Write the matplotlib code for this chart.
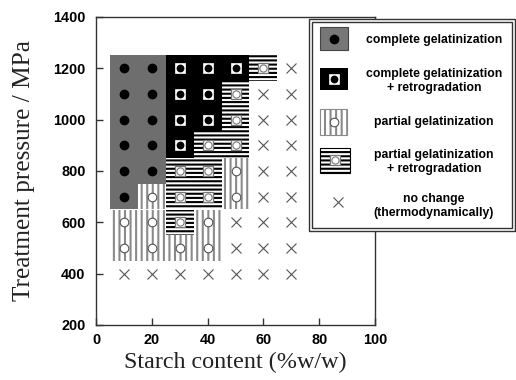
import numpy as np
import matplotlib
matplotlib.use("Agg")
import matplotlib.pyplot as plt
from matplotlib.patches import Rectangle

plt.rcParams["hatch.linewidth"] = 1.5

# Sample grid
starch = [10, 20, 30, 40, 50, 60, 70]
pressure = [400, 500, 600, 700, 800, 900, 1000, 1100, 1200]

# State of each sample, from 400 MPa up to 1200 MPa
# C: complete gelatinization, R: complete gelatinization + retrogradation,
# P: partial gelatinization, Q: partial gelatinization + retrogradation,
# N: no change
state_10 = "NPPCCCCCC"
state_20 = "NPPPCCCCC"
state_30 = "NPQQQRRRR"
state_40 = "NPPQQQRRR"
state_50 = "NNNPPQQQR"
state_60 = "NNNNNNNNQ"
state_70 = "NNNNNNNNN"
states = [state_10, state_20, state_30, state_40, state_50, state_60, state_70]

x_ticks = [0, 20, 40, 60, 80, 100]
y_ticks = [200, 400, 600, 800, 1000, 1200, 1400]

legend_labels = {
    "C": "complete gelatinization",
    "R": "complete gelatinization\n+ retrogradation",
    "P": "partial gelatinization",
    "Q": "partial gelatinization\n+ retrogradation",
    "N": "no change\n(thermodynamically)",
}

GRAY = "#6e6e6e"
STRIPE = "#8a8a8a"
INK = "#333333"

cell_style = {
    "C": dict(facecolor=GRAY, edgecolor="none"),
    "R": dict(facecolor="black", edgecolor="none"),
    "P": dict(facecolor="white", edgecolor=STRIPE, hatch="|||"),
    "Q": dict(facecolor="white", edgecolor="black", hatch="----"),
}


def draw_marker(axis, xs, ys, code, scale=1.0):
    if code == "C":
        axis.plot(xs, ys, ls="none", marker="o", ms=6 * scale, mfc="black",
                  mec="black", zorder=4)
    elif code == "R":
        axis.plot(xs, ys, ls="none", marker="s", ms=7 * scale, mfc="white",
                  mec="white", mew=0.5, zorder=4)
        axis.plot(xs, ys, ls="none", marker="o", ms=4.6 * scale, mfc="black",
                  mec="black", zorder=5)
    elif code == "P":
        axis.plot(xs, ys, ls="none", marker="o", ms=6.2 * scale, mfc="white",
                  mec="#555555", mew=0.8, zorder=4)
    elif code == "Q":
        axis.plot(xs, ys, ls="none", marker="s", ms=7.2 * scale, mfc="white",
                  mec="#777777", mew=0.9, zorder=4)
        axis.plot(xs, ys, ls="none", marker="o", ms=5.2 * scale, mfc="white",
                  mec="#777777", mew=0.8, zorder=5)
    else:
        axis.plot(xs, ys, ls="none", marker="x", ms=7.5 * scale, mfc="none",
                  mec="#555555", mew=0.8, zorder=4)


W, H = 516, 380
fig = plt.figure(figsize=(W / 100, H / 100), dpi=100)
ax = fig.add_axes([96 / W, 1 - 325 / H, (375 - 96) / W, (325 - 17) / H])

for code in "CRPQN":
    xs, ys = [], []
    for sc, col in zip(starch, states):
        for p, s in zip(pressure, col):
            if s == code:
                xs.append(sc)
                ys.append(p)
    if not xs:
        continue
    if code in cell_style:
        ax.bar(xs, 100, width=10, bottom=np.array(ys) - 50, linewidth=0,
               antialiased=False, zorder=1, **cell_style[code])
    draw_marker(ax, xs, ys, code)

ax.set_xlim(0, 100)
ax.set_ylim(200, 1400)
ax.set_xticks(x_ticks, labels=[str(v) for v in x_ticks], fontweight="bold",
              fontfamily="Liberation Sans", fontsize=10.4)
ax.set_yticks(y_ticks, labels=[str(v) for v in y_ticks], fontweight="bold",
              fontfamily="Liberation Sans", fontsize=10.4)
ax.tick_params(axis="both", direction="in", length=5, width=1, color=INK)
ax.tick_params(axis="x", pad=5.5)
ax.tick_params(axis="y", pad=7.5)
for sp in ax.spines.values():
    sp.set_color(INK)
    sp.set_linewidth(1)

ax.set_xlabel("Starch content (%w/w)", fontfamily="Liberation Serif",
              fontsize=17.4, color="#222222", va="center")
ax.xaxis.set_label_coords(0.5, (325 - 362) / 308)
ax.set_ylabel("Treatment pressure / MPa", fontfamily="Liberation Serif",
              fontsize=18.2, color="#222222", va="center")
ax.yaxis.set_label_coords((24 - 96) / 279, 0.5)

# Legend panel, laid out in pixel units
lg = fig.add_axes([0, 0, 1, 1], zorder=5)
lg.set_xlim(0, W)
lg.set_ylim(H, 0)
lg.axis("off")
lg.add_patch(Rectangle((309, 19), 206, 212, facecolor="white",
                       edgecolor=INK, lw=1, zorder=1))
lg.add_patch(Rectangle((312, 22), 200, 206, fill=False,
                       edgecolor=INK, lw=1, zorder=1))

swatches = [
    ("C", (320, 27, 28, 23), 39, 40),
    ("R", (320, 68, 28, 22), 79, 81),
    ("P", (320, 109, 27, 26), 122, 122),
    ("Q", (320, 148, 30, 25), 160, 162),
    ("N", None, 202, 206),
]
for code, box, my, ty in swatches:
    if box is not None:
        x0, y0, w, h = box
        style = dict(cell_style[code])
        if code == "C":
            style["edgecolor"] = "#444444"
            style["facecolor"] = "#777777"
            lg.add_patch(Rectangle((x0, y0), w, h, lw=0.8, zorder=2, **style))
        elif code == "R":
            lg.add_patch(Rectangle((x0, y0), w, h, lw=0, zorder=2, **style))
        else:
            lg.add_patch(Rectangle((x0, y0), w, h, lw=0, zorder=2, **style))
            lg.add_patch(Rectangle((x0, y0), w, h, fill=False, lw=0.8,
                                   edgecolor=STRIPE if code == "P" else "black",
                                   zorder=3))
        mx = x0 + w / 2
    else:
        mx = 338
    draw_marker(lg, [mx], [my], code)
    lg.text(434, ty, legend_labels[code], ha="center", va="center",
            multialignment="center", fontfamily="Liberation Sans",
            fontweight="bold", fontsize=8.8, linespacing=1.3, color="black",
            zorder=6)

fig.savefig("out.png", dpi=100)
